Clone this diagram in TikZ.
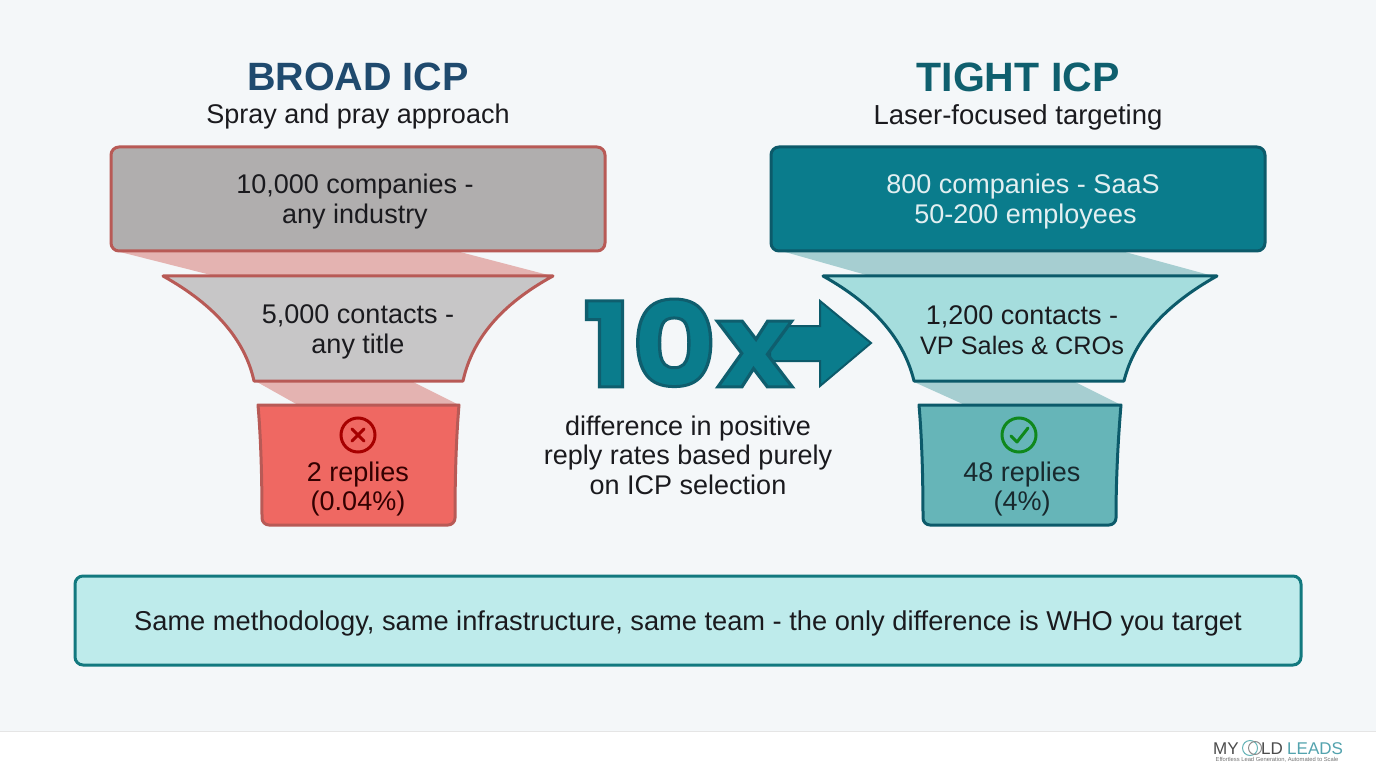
\documentclass[tikz,border=0pt]{standalone}
\usepackage{fontspec}
\setmainfont{Liberation Sans}
\newfontfamily\tenfont{Poppins Bold}
\definecolor{bgc}{HTML}{F4F7F9}
\definecolor{navy}{HTML}{1F4A6E}
\definecolor{deepteal}{HTML}{0F5F6E}
\definecolor{redline}{HTML}{B85A56}
\definecolor{tealline}{HTML}{0C5A6A}
\definecolor{grayA}{HTML}{B0AEAE}
\definecolor{grayB}{HTML}{C7C6C7}
\definecolor{redfill}{HTML}{EF6862}
\definecolor{redshade}{HTML}{E4B3B1}
\definecolor{tealA}{HTML}{0A7C8C}
\definecolor{tealB}{HTML}{A5DDDD}
\definecolor{tealC}{HTML}{66B5B8}
\definecolor{tealshade}{HTML}{A6CED1}
\definecolor{notefill}{HTML}{BEEBEB}
\definecolor{noteline}{HTML}{12797F}
\definecolor{txt}{HTML}{1A1A1E}
\tikzset{
  x=1pt,y=-1pt,
  heading/.style={font=\fontsize{39.5}{42}\selectfont\bfseries,anchor=center,inner sep=0},
  subhead/.style={font=\fontsize{27}{30}\selectfont,text=txt,anchor=center,inner sep=0},
  body/.style={font=\fontsize{27}{29.5}\selectfont,align=center,text=txt,anchor=center,inner sep=0},
  redshape/.style={draw=redline,line width=3pt,line join=round},
  tealshape/.style={draw=tealline,line width=3pt,line join=round},
}
\begin{document}
\begin{tikzpicture}
\useasboundingbox (0,0) rectangle (1376,767);
\fill[bgc] (0,0) rectangle (1376,731);
\fill[white] (0,731) rectangle (1376,767);
\draw[color=black!10,line width=1pt] (0,731) -- (1376,731);

% left titles
\node[heading,text=navy] (t1) at (358,77) {BROAD ICP};
\node[subhead] (s1) at (358,117) {Spray and pray approach};
% right titles
\node[heading,text=deepteal] (t2) at (1018,77) {\fontsize{41}{42}\selectfont TIGHT ICP};
\node[subhead] (s2) at (1018,117) {\fontsize{27.5}{30}\selectfont Laser-focused targeting};

% shades left
\fill[redshade] (120,252) -- (460,252) -- (552,276) -- (215,276) -- cycle;
\fill[redshade] (257,382) -- (413,382) -- (459,405) -- (298,405) -- cycle;
% shades right
\fill[tealshade] (785,252) -- (1125,252) -- (1213,276) -- (870,276) -- cycle;
\fill[tealshade] (914,382) -- (1075,382) -- (1121,405) -- (965,405) -- cycle;

% left funnel
\draw[redshape,fill=grayA,rounded corners=8pt] (111,147) rectangle (605,251);
\node[body] (a1) at (355,201.5) {10,000 companies -\\any industry};
\draw[redshape,fill=grayB] (163,276) -- (553,276) .. controls (500,305) and (472,340) .. (463,381) -- (254,381) .. controls (245,340) and (215,305) .. (163,276) -- cycle;
\node[body] (a2) at (358,332) {5,000 contacts -\\any title};
\draw[redshape,fill=redfill] (258,405) -- (459,405) .. controls (456,440) and (455,480) .. (455,518) arc[start angle=0,end angle=90,radius=7] -- (269,525) arc[start angle=90,end angle=180,radius=7] .. controls (262,480) and (261,440) .. (258,405) -- cycle;
\draw[color=red!65!black,line width=3pt] (358,435) circle[radius=17];
\draw[color=red!65!black,line width=3pt,line cap=round] (352,429) -- (364,441) (364,429) -- (352,441);
\node[body,text=red!20!black] (a3) at (358,489) {2 replies\\(0.04\%)};

% right funnel
\draw[tealshape,fill=tealA,rounded corners=8pt] (771,147) rectangle (1265,251);
\node[body,text=white!88!tealA] (b1) at (1023,201.5) {800 companies - SaaS\\\hspace*{5pt}50-200 employees};
\draw[tealshape,fill=tealB] (823,276) -- (1217,276) .. controls (1165,305) and (1134,340) .. (1124,381) -- (914,381) .. controls (904,340) and (875,305) .. (823,276) -- cycle;
\node[body] (b2) at (1022,330) {1,200 contacts -\\\fontsize{25.3}{29.5}\selectfont VP Sales \& CROs};
\draw[tealshape,fill=tealC] (919,405) -- (1121,405) .. controls (1118,440) and (1116,480) .. (1116,518) arc[start angle=0,end angle=90,radius=7] -- (930,525) arc[start angle=90,end angle=180,radius=7] .. controls (923,480) and (922,440) .. (919,405) -- cycle;
\draw[color=green!50!black!85!tealC,line width=3pt] (1019,435) circle[radius=17];
\draw[color=green!50!black!85!tealC,line width=3pt,line cap=round,line join=round] (1011,436) -- (1017,442) -- (1028,428);
\node[body,text=txt!85!tealA] (b3) at (1022,489) {48 replies\\(4\%)};

% centre
\draw[draw=tealline,fill=tealA,line width=2pt,line join=miter] (770,326) -- (820,326) -- (820,301) -- (871,343) -- (820,386) -- (820,361) -- (770,361) -- cycle;
\node[anchor=center,inner sep=0,text=tealA] (ten) at (688,343) {\scalebox{1.1}[1]{\fontsize{118}{120}\selectfont\tenfont\special{pdf:code 2 Tr 3 w 0.06 0.37 0.43 RG}10x\special{pdf:code 0 Tr}}};
\node[body] (c1) at (688,455) {difference in positive\\reply rates based purely\\on ICP selection};

% bottom note
\draw[draw=noteline,fill=notefill,line width=3pt,rounded corners=8pt] (75,576) rectangle (1301,665);
\node[subhead] (n1) at (688,623) {\fontsize{27.25}{30}\selectfont Same methodology, same infrastructure, same team - the only difference is WHO you target};

% logo
\node[anchor=west,inner sep=0,text=black!70,font=\fontsize{17}{18}\selectfont] (l1) at (1213,749) {MY};
\draw[color=tealC,line width=1pt] (1250,748) circle[radius=7.5];
\draw[color=black!45,line width=1pt] (1255,748) circle[radius=6.5];
\node[anchor=west,inner sep=0,text=black!70,font=\fontsize{17}{18}\selectfont] (l2) at (1261,749) {LD};
\node[anchor=west,inner sep=0,text=tealA!70,font=\fontsize{17}{18}\selectfont] (l3) at (1287,749) {LEADS};
\node[anchor=center,inner sep=0,text=black!55,font=\fontsize{5.8}{7}\selectfont] (l4) at (1277,760) {Effortless Lead Generation, Automated to Scale};
\end{tikzpicture}
\end{document}
